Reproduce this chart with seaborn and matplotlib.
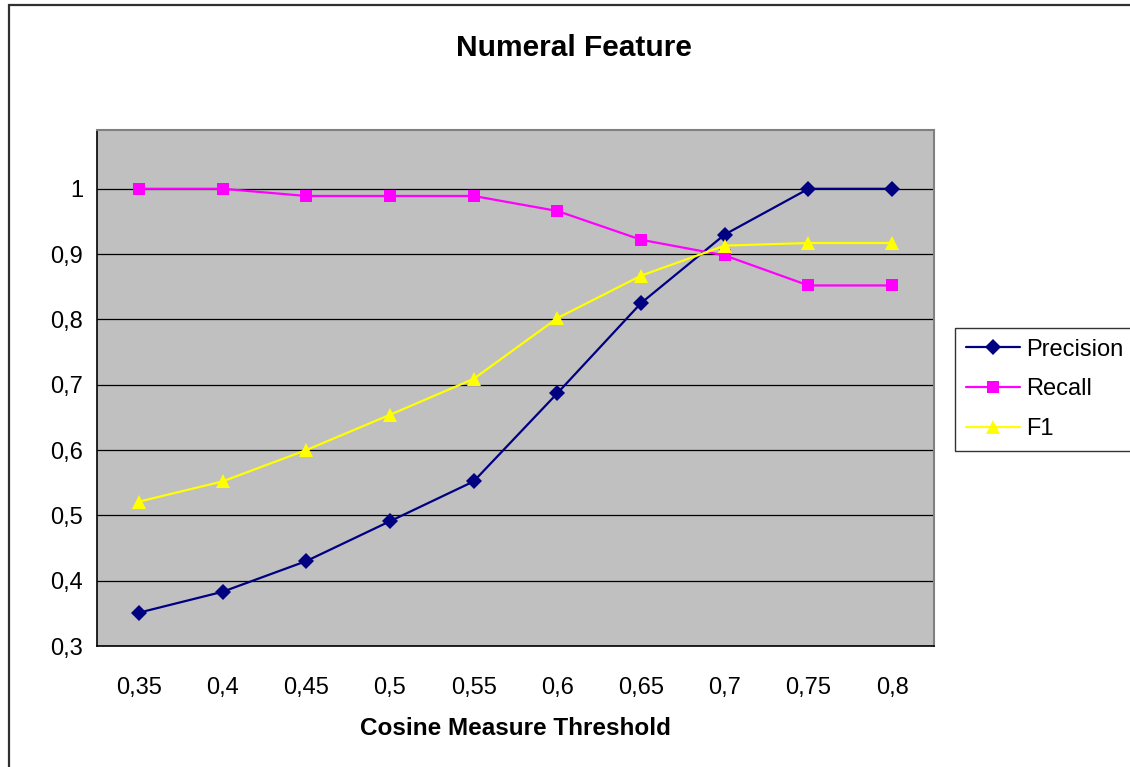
import pandas as pd
import seaborn as sns
import matplotlib.pyplot as plt
from matplotlib.patches import Rectangle
from matplotlib.ticker import FixedLocator, NullFormatter

# values
thresholds = ["0,35", "0,4", "0,45", "0,5", "0,55", "0,6", "0,65", "0,7", "0,75", "0,8"]
precision = [0.351, 0.383, 0.430, 0.491, 0.552, 0.687, 0.825, 0.930, 1.0, 1.0]
recall = [1.0, 1.0, 0.989, 0.989, 0.989, 0.966, 0.922, 0.898, 0.852, 0.852]
f1 = [0.521, 0.552, 0.600, 0.654, 0.709, 0.802, 0.867, 0.913, 0.917, 0.917]
y_ticks = [0.3, 0.4, 0.5, 0.6, 0.7, 0.8, 0.9, 1.0]
y_labels = ["0,3", "0,4", "0,5", "0,6", "0,7", "0,8", "0,9", "1"]

series_names = ["Precision", "Recall", "F1"]
colors = {"Precision": "#000080", "Recall": "#FF00FF", "F1": "#FFFF00"}
markers = {"Precision": "D", "Recall": "s", "F1": "^"}
sizes = {"Precision": 8.5, "Recall": 9, "F1": 10.5}

df = pd.DataFrame({
    "threshold": thresholds * 3,
    "value": precision + recall + f1,
    "series": ["Precision"] * 10 + ["Recall"] * 10 + ["F1"] * 10,
})

sns.set_style("white")
plt.rcParams["font.family"] = ["Liberation Sans", "DejaVu Sans"]
plt.rcParams["text.color"] = "black"
plt.rcParams["axes.labelcolor"] = "black"
plt.rcParams["xtick.color"] = "black"
plt.rcParams["ytick.color"] = "black"

fig = plt.figure(figsize=(11.3, 7.67), dpi=100)
ax = fig.add_axes([97 / 1130, 1 - 646 / 767, (934 - 97) / 1130, (646 - 130) / 767])
ax.set_facecolor("#C0C0C0")

for name in series_names:
    sub = df[df["series"] == name]
    sns.lineplot(data=sub, x="threshold", y="value", ax=ax, color=colors[name],
                 marker=markers[name], markersize=sizes[name], markeredgewidth=0,
                 linewidth=1.6, label=name, sort=False)

ax.set_xlim(-0.5, len(thresholds) - 0.5)
ax.set_ylim(0.3, 1.09)
ax.set_yticks(y_ticks)
ax.set_yticklabels(y_labels)
ax.yaxis.grid(True, color="black", linewidth=0.9)
ax.set_axisbelow(True)

ax.xaxis.set_minor_locator(FixedLocator([i - 0.5 for i in range(len(thresholds) + 1)]))
ax.xaxis.set_minor_formatter(NullFormatter())
ax.tick_params(axis="x", which="major", length=0, pad=22, labelsize=17)
ax.tick_params(axis="x", which="minor", length=7, width=1, color="black", direction="out")
ax.tick_params(axis="y", length=7, width=1, color="black", direction="out", pad=3, labelsize=17)

for side in ["left", "bottom"]:
    ax.spines[side].set_color("black")
    ax.spines[side].set_linewidth(1.2)
for side in ["top", "right"]:
    ax.spines[side].set_color("#808080")
    ax.spines[side].set_linewidth(1.5)

ax.set_xlabel("Cosine Measure Threshold", fontsize=17.5, fontweight="bold", labelpad=13)
ax.set_ylabel("")
fig.suptitle("Numeral Feature", x=574 / 1130, y=1 - 48 / 767, va="center",
             fontsize=21.5, fontweight="bold")

ax.get_legend().remove()
handles, labels = ax.get_legend_handles_labels()
leg = fig.legend(handles, labels, loc="upper left", bbox_to_anchor=(955 / 1130, 1 - 328 / 767),
                 fontsize=17, frameon=True, fancybox=False, edgecolor="black",
                 handlelength=2.3, handletextpad=0.25, labelspacing=0.75, borderpad=0.45,
                 borderaxespad=0)
leg.get_frame().set_linewidth(1)

# outer chart border (cut off at right and bottom like the reference)
fig.patches.append(Rectangle((8.5 / 1130, -0.1), 1.2, 1 - 4.5 / 767 + 0.1, transform=fig.transFigure,
                             fill=False, edgecolor="#303030", linewidth=1.6))

fig.savefig("out.png", dpi=100)
